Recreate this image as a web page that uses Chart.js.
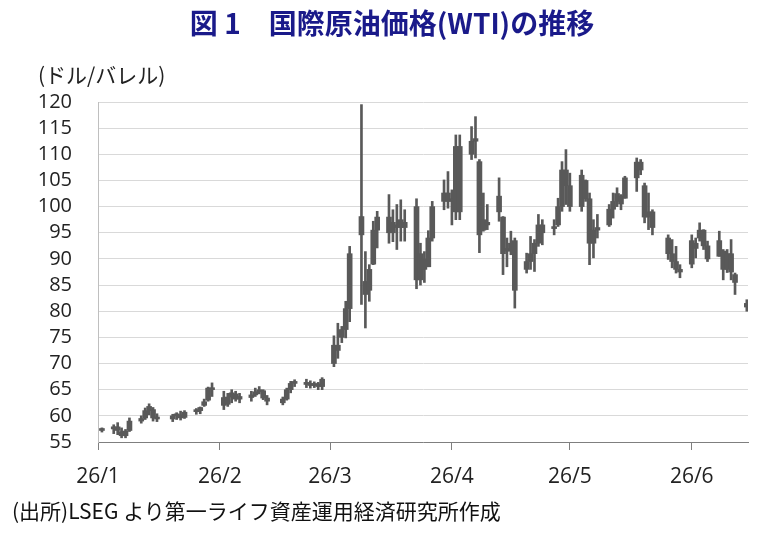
<!DOCTYPE html>
<html>
<head>
<meta charset="utf-8">
<script src="https://cdn.jsdelivr.net/npm/chart.js@4.4.1/dist/chart.umd.min.js"></script>
<style>
  html, body { margin: 0; padding: 0; background: #fff; }
  #wrap { position: relative; width: 777px; height: 537px; overflow: hidden; }
  #c { position: absolute; left: 0; top: 0; }
  .txt { position: absolute; white-space: nowrap; font-family: "Noto Sans CJK JP", sans-serif; }
  #title { left: 0; width: 784px; text-align: center; top: 8px; font-size: 28px; line-height: 28px; font-weight: bold; color: #1a1a8a; }
  #unit { left: 38px; top: 64px; font-size: 21px; line-height: 21px; color: #222; }
  #src { left: 12px; top: 500px; font-size: 21px; line-height: 21px; color: #111; }
</style>
</head>
<body>
<div id="wrap">
  <canvas id="c" width="777" height="537"></canvas>
  <div class="txt" id="title">図 1　国際原油価格(WTI)の推移</div>
  <div class="txt" id="unit">(ドル/バレル)</div>
  <div class="txt" id="src">(出所)LSEG より第一ライフ資産運用経済研究所作成</div>
</div>
<script>
// ---- data (2026, daily WTI: open / high / low / close) ----
const dates = ['1/2','1/5','1/6','1/7','1/8','1/9','1/12','1/13','1/14','1/15','1/16','1/20','1/21','1/22','1/23','1/26','1/27','1/28','1/29','1/30',
  '2/2','2/3','2/4','2/5','2/6','2/9','2/10','2/11','2/12','2/13','2/17','2/18','2/19','2/20','2/23','2/24','2/25','2/26','2/27',
  '3/2','3/3','3/4','3/5','3/6','3/9','3/10','3/11','3/12','3/13','3/16','3/17','3/18','3/19','3/20','3/23','3/24','3/25','3/26','3/27','3/30','3/31',
  '4/1','4/2','4/3','4/6','4/7','4/8','4/9','4/10','4/13','4/14','4/15','4/16','4/17','4/20','4/21','4/22','4/23','4/24','4/27','4/28','4/29','4/30',
  '5/1','5/4','5/5','5/6','5/7','5/8','5/11','5/12','5/13','5/14','5/15','5/18','5/19','5/20','5/21','5/22','5/26','5/27','5/28','5/29',
  '6/1','6/2','6/3','6/4','6/5','6/8','6/9','6/10','6/11','6/12','6/15'];
const openP = [57.2,57.5,57.9,57.0,56.2,57.2,59.0,59.6,61.0,61.2,59.5,59.4,60.0,60.2,59.7,60.8,61.0,62.0,63.0,65.3,
  63.5,62.2,63.6,64.2,63.2,63.5,64.0,64.6,64.8,63.4,62.5,63.2,65.0,66.2,66.4,66.0,65.8,66.1,65.6,
  70.0,73.5,75.0,76.5,80.5,94.6,85.7,84.0,89.0,95.5,98.0,95.0,96.5,96.0,97.0,100.0,86.0,90.0,88.5,94.0,101.0,102.6,
  101.0,99.0,111.5,110.0,112.5,108.6,95.5,97.0,102.0,98.0,92.0,91.5,93.5,88.0,89.5,91.0,93.0,96.5,96.0,96.5,100.0,107.0,
  104.0,100.0,105.0,101.5,93.0,95.5,96.5,99.5,101.0,102.0,101.6,105.5,108.5,104.0,98.0,99.0,94.0,91.0,89.5,88.0,
  89.0,93.0,94.0,95.5,92.5,90.5,91.5,88.0,91.0,87.0,81.5];
const highP = [57.7,58.3,58.7,57.7,57.4,59.6,60.0,61.5,62.3,61.6,60.4,60.3,60.6,60.9,61.0,61.4,61.7,63.2,65.5,66.3,
  64.7,64.3,65.0,64.7,64.3,64.7,65.3,65.6,65.0,63.9,63.6,65.3,66.6,66.9,67.0,66.7,66.5,66.4,67.3,
  75.3,77.7,77.1,81.9,92.4,119.5,91.4,88.9,97.2,99.1,102.3,99.4,100.4,101.3,99.4,101.5,93.0,91.4,95.4,101.0,105.1,106.7,
  103.2,113.7,113.7,115.3,117.2,109.0,102.6,100.4,105.5,98.1,94.0,95.3,94.0,91.1,94.3,93.7,98.5,97.5,97.5,101.6,108.6,110.9,
  106.4,107.0,105.1,102.6,97.5,98.5,100.4,102.6,103.6,102.3,105.8,109.3,109.0,104.5,102.6,99.4,94.6,93.7,92.4,88.9,
  94.6,94.0,96.9,95.6,93.4,95.3,91.8,91.8,93.7,87.3,82.2];
const lowP = [56.9,56.6,56.4,55.8,55.8,57.0,58.6,59.3,60.2,59.0,58.9,58.9,59.3,59.2,59.5,60.3,60.4,61.8,62.8,63.7,
  61.2,61.8,62.5,62.8,62.5,62.8,63.7,64.2,63.1,62.1,62.1,63.0,64.4,65.6,65.4,65.3,65.4,65.0,65.0,
  69.4,71.0,74.0,74.9,78.0,81.3,76.8,81.9,88.9,92.1,93.0,93.3,91.8,93.4,93.4,84.3,85.0,85.5,88.5,93.4,99.4,99.7,
  96.5,97.5,97.5,109.0,109.3,91.2,95.3,95.6,97.2,87.0,88.5,90.8,80.6,87.3,88.0,87.6,92.4,92.7,94.6,96.2,99.1,100.4,
  99.1,99.1,101.0,88.9,90.2,94.0,96.2,97.8,100.0,99.4,101.6,102.9,106.1,96.9,95.6,94.6,89.9,88.3,87.3,86.4,
  88.3,90.2,93.4,91.8,89.5,90.5,86.0,87.4,86.0,83.2,80.0];
const closeP = [57.4,57.9,57.2,56.2,57.1,59.0,59.5,61.0,61.8,59.6,59.4,60.0,60.1,59.6,60.7,61.0,61.6,62.7,65.3,65.0,
  62.0,63.6,64.4,63.2,63.7,64.0,64.6,65.0,63.4,62.8,63.2,65.0,66.2,66.5,66.0,65.8,66.1,65.6,67.0,
  73.5,72.5,76.5,80.5,91.0,98.1,83.2,88.0,95.5,98.0,95.0,97.0,96.0,97.5,96.0,86.0,91.0,88.0,94.0,100.0,102.6,101.0,
  101.5,111.5,99.0,112.5,113.0,94.6,97.5,96.5,99.0,91.0,91.5,93.0,84.0,89.5,91.0,93.0,96.5,95.0,95.8,100.0,107.0,104.0,
  100.0,106.0,101.5,93.0,95.5,96.0,99.5,101.0,102.5,100.5,105.5,108.5,107.0,98.0,99.0,96.0,91.0,89.5,88.0,87.5,
  93.5,92.0,95.5,92.5,90.0,93.5,88.0,91.0,87.5,85.5,80.8];

const monthTickDates = ['1/1','2/1','3/1','4/1','5/1','6/1'];
const monthTickLabels = ['26/1','26/2','26/3','26/4','26/5','26/6'];
const yMin = 55, yMax = 120, yStep = 5;
const lastDate = '6/15';

function dayIndex(md) {
  const [m, d] = md.split('/').map(Number);
  return (Date.UTC(2026, m - 1, d) - Date.UTC(2026, 0, 1)) / 86400000;
}
const days = dates.map(dayIndex);
const tickDays = monthTickDates.map(dayIndex);

const wickData = dates.map((d, i) => ({ x: days[i], y: [lowP[i], highP[i]] }));
const bodyData = dates.map((d, i) => ({ x: days[i], y: [Math.min(openP[i], closeP[i]), Math.max(openP[i], closeP[i])] }));

Chart.defaults.font.family = "'Open Sans', sans-serif";
Chart.defaults.color = '#222';

new Chart(document.getElementById('c'), {
  type: 'bar',
  data: {
    datasets: [
      { data: wickData, backgroundColor: '#595959', barThickness: 2, grouped: false, order: 2 },
      { data: bodyData, backgroundColor: '#595959', barThickness: 5, grouped: false, minBarLength: 2, order: 1 }
    ]
  },
  options: {
    responsive: false,
    animation: false,
    events: [],
    layout: { padding: { left: 0, top: 102, right: 29, bottom: 35 } },
    plugins: { legend: { display: false }, tooltip: { enabled: false } },
    scales: {
      x: {
        type: 'linear',
        min: 0,
        max: dayIndex(lastDate) + 0.3,
        offset: false,
        afterFit: (s) => { s.height = 60; },
        afterBuildTicks: (s) => { s.ticks = tickDays.map(v => ({ value: v })); },
        ticks: {
          font: { size: 21 },
          color: '#222',
          padding: 14,
          maxRotation: 0,
          autoSkip: false,
          callback: (v) => { const k = tickDays.indexOf(v); return k >= 0 ? monthTickLabels[k] : ''; }
        },
        grid: { offset: false, drawOnChartArea: false, drawTicks: true, tickLength: 8, color: '#7f7f7f', lineWidth: 1 },
        border: { display: true, color: '#7f7f7f', width: 1 }
      },
      y: {
        min: yMin,
        max: yMax,
        afterFit: (s) => { s.width = 98; },
        ticks: { stepSize: yStep, autoSkip: false, font: { size: 20 }, color: '#222', padding: 26 },
        grid: { color: '#d9d9d9', lineWidth: 1, drawTicks: false },
        border: { display: true, color: '#bfbfbf', width: 1 }
      }
    }
  }
});
</script>
</body>
</html>
